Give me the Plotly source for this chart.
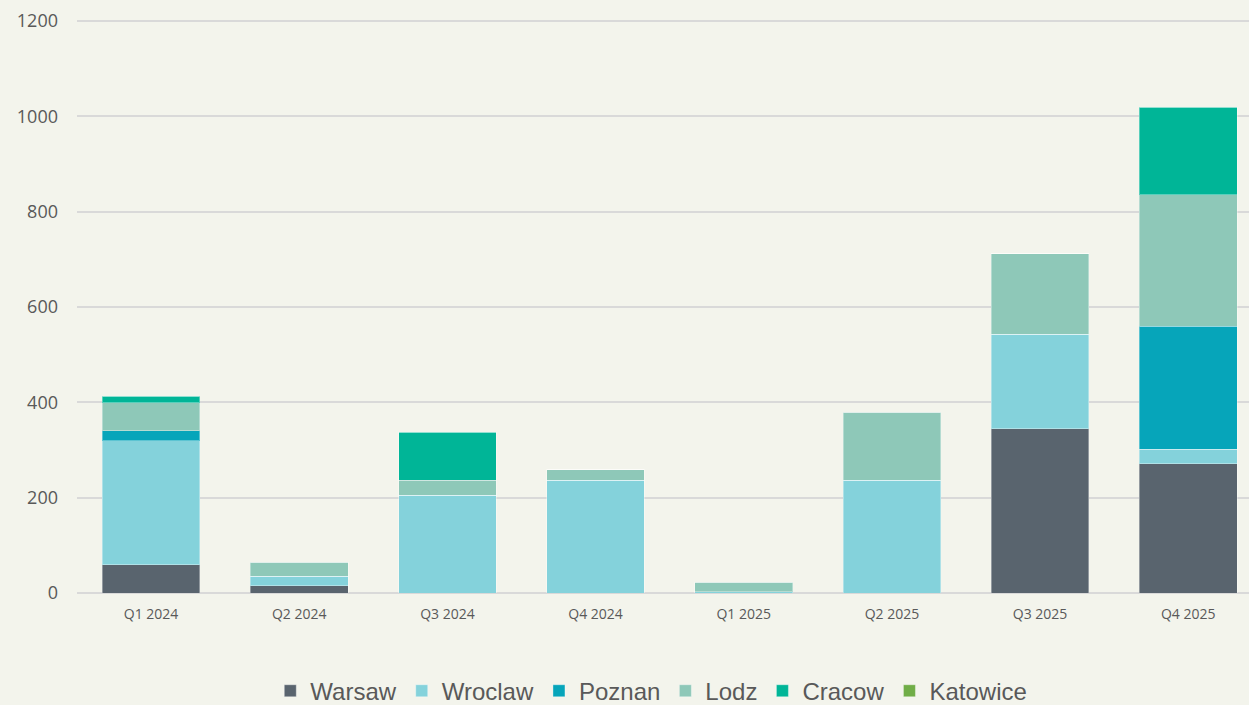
import plotly.graph_objects as go

quarters = ["Q1 2024", "Q2 2024", "Q3 2024", "Q4 2024",
            "Q1 2025", "Q2 2025", "Q3 2025", "Q4 2025"]

warsaw = [59, 15, 0, 0, 0, 0, 345, 271]
wroclaw = [260, 20, 205, 236, 3, 236, 198, 31]
poznan = [21, 0, 0, 0, 0, 0, 0, 258]
lodz = [59, 29, 31, 23, 20, 143, 169, 275]
cracow = [14, 0, 101, 0, 0, 0, 0, 184]
katowice = [0, 0, 0, 0, 0, 0, 0, 0]

series = [
    ("Warsaw", warsaw, "#59646E"),
    ("Wroclaw", wroclaw, "#84D2DB"),
    ("Poznan", poznan, "#06A5BA"),
    ("Lodz", lodz, "#8EC8B8"),
    ("Cracow", cracow, "#00B597"),
    ("Katowice", katowice, "#70AD47"),
]

fig = go.Figure()
for name, vals, color in series:
    fig.add_trace(go.Bar(
        x=quarters,
        y=vals,
        name=name,
        marker=dict(color=color, line=dict(color="rgba(255,255,255,0.35)", width=1)),
    ))

bg = "#F3F4EC"
fig.update_layout(
    barmode="stack",
    bargap=0.34,
    width=1249,
    height=705,
    paper_bgcolor=bg,
    plot_bgcolor=bg,
    margin=dict(l=77, r=0, t=19, b=112, autoexpand=False),
    font=dict(family="Open Sans, Liberation Sans, Arial", color="#595959"),
    showlegend=True,
    legend=dict(
        orientation="h",
        x=0.49, xanchor="center",
        y=-0.171, yanchor="middle",
        font=dict(family="Liberation Sans, Arial", size=24, color="#595959"),
        itemwidth=30,
        traceorder="normal",
    ),
)

fig.update_xaxes(
    range=[-0.5, 7.41],
    showgrid=False,
    showline=False,
    ticks="",
    tickfont=dict(size=14, color="#595959"),
    ticklabelstandoff=11,
)
fig.update_yaxes(
    range=[0, 1204],
    tickvals=[0, 200, 400, 600, 800, 1000, 1200],
    showgrid=True,
    gridcolor="#D9D9D9",
    gridwidth=1.5,
    zeroline=True,
    zerolinecolor="#D9D9D9",
    zerolinewidth=1.5,
    showline=False,
    ticks="",
    tickfont=dict(size=18, color="#595959"),
    ticklabelstandoff=18,
)

# drop the browser's default page margin so the figure sits at 0,0
fig.write_html("out.html", config={"displayModeBar": False},
               post_script="document.body.style.margin='0';")
